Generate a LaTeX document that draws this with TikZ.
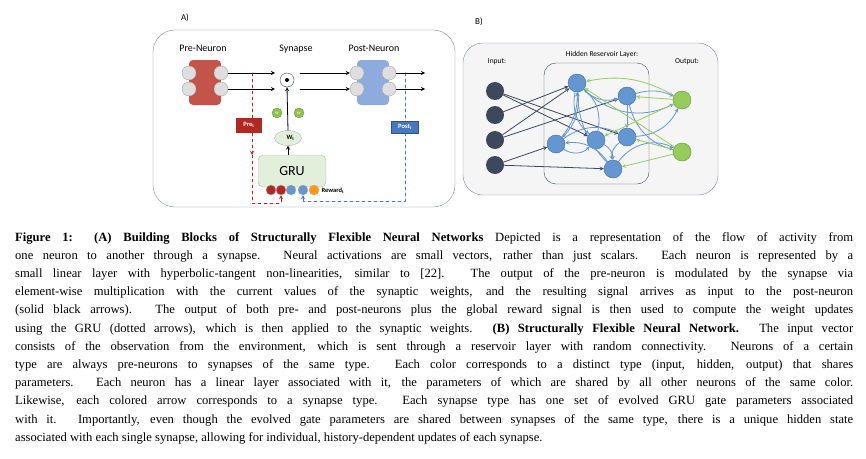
\documentclass[tikz,border=0pt]{standalone}
\usepackage{fontspec}
\setmainfont{Liberation Serif}
\newfontfamily\carl{Carlito}
\usetikzlibrary{arrows.meta,positioning,shapes.geometric}
\definecolor{preRed}{RGB}{196,84,74}
\definecolor{preDark}{RGB}{180,40,36}
\definecolor{postBlue}{RGB}{143,170,220}
\definecolor{postDark}{RGB}{70,120,190}
\definecolor{nGrey}{RGB}{222,222,222}
\definecolor{wGreen}{RGB}{140,196,80}
\definecolor{gruFill}{RGB}{226,239,218}
\definecolor{inDark}{RGB}{60,72,92}
\definecolor{hidBlue}{RGB}{100,150,210}
\definecolor{outGreen}{RGB}{150,205,90}
\definecolor{frameGrey}{RGB}{130,140,160}
\tikzset{
  port/.style={circle,draw=gray!70,fill=nGrey,minimum size=14pt,inner sep=0pt},
  lbl/.style={font=\carl\fontsize{10}{12}\selectfont},
  small/.style={font=\carl\bfseries\fontsize{6.5}{8}\selectfont},
  inN/.style={circle,fill=inDark,minimum size=18pt,inner sep=0pt},
  hidN/.style={circle,fill=hidBlue,draw=hidBlue!70!black,minimum size=18pt,inner sep=0pt},
  outN/.style={circle,fill=outGreen,draw=outGreen!70!black,minimum size=18pt,inner sep=0pt},
  inE/.style={->,draw=inDark,thick},
  hidE/.style={->,draw=hidBlue,thick},
  outE/.style={->,draw=outGreen,thick},
}
\begin{document}
\begin{tikzpicture}[x=1pt,y=-1pt,line cap=round,line join=round,>=stealth]
  \useasboundingbox (0,0) rectangle (866,458);
  \fill[white] (0,0) rectangle (866,458);

  %--- panel A -------------------------------------------------------------
  \node[lbl,font=\carl\fontsize{9}{10}\selectfont] (labA) at (185,18) {A)};
  \draw[frameGrey,rounded corners=22pt] (153,30) rectangle (455,207);
  \node[lbl] (tPre) at (203,48) {Pre-Neuron};
  \node[lbl] (tSyn) at (296,49) {Synapse};
  \node[lbl] (tPost) at (374,48) {Post-Neuron};

  % neurons
  \fill[preRed,rounded corners=4pt] (189,60) rectangle (221,105);
  \fill[postBlue,rounded corners=4pt] (357,60) rectangle (389,105);
  \foreach \x/\n in {189/pl,221/pr,357/ql,389/qr}{
    \node[port] (\n a) at (\x,73) {};
    \node[port] (\n b) at (\x,89) {};
  }
  \node[circle,draw=inDark,fill=white,minimum size=14pt,inner sep=0pt] (syn) at (287,80) {};
  \fill (syn) circle (2pt);
  \coordinate (sinA) at (275,73);  \coordinate (sinB) at (275,89);
  \coordinate (soA) at (300,73);   \coordinate (soB) at (300,89);
  \coordinate (oA) at (425,73);    \coordinate (oB) at (425,89);

  % red dashed (pre)
  \draw[preDark,thick,dashed] (pra.east) -- (252,73) (prb.east) -- (252,89);
  \draw[preDark,thick,dashed,->] (252,73) -- (252,155);
  \draw[preDark,thick,dashed] (252,155) -- (252,203) -- (281,203) -- (281,197);

  % blue dashed (post)
  \draw[postDark,thick,dashed] (qra.east) -- (405,73) (qrb.east) -- (405,89);
  \draw[postDark,thick,dashed] (405,73) -- (405,201) -- (303,201) -- (303,197);

  % solid arrows
  \draw[->,thick] (pra.east) -- (sinA);
  \draw[->,thick] (prb.east) -- (sinB);
  \draw[->,thick] (soA) -- (qla.west);
  \draw[->,thick] (soB) -- (qlb.west);
  \draw[->,thick] (qra.east) -- (oA);
  \draw[->,thick] (qrb.east) -- (oB);

  % GRU block
  \node[draw=gray!60,fill=gruFill,rounded corners=5pt,minimum width=68pt,minimum height=32pt,
        font=\carl\fontsize{14}{16}\selectfont] (gru) at (292,171) {GRU};
  \node[ellipse,draw=gray!60,fill=gruFill,minimum width=27pt,minimum height=15pt,inner sep=0pt,small] (dw) at (288,138) {$\mathbf{\Delta}$W\textsubscript{t}};
  \draw[->,thick] (gru.north -| dw) -- (dw.south);
  \draw[->,thick] (dw.north) -- (syn.south);
  \node[circle,fill=wGreen,draw=wGreen!80!black,minimum size=10pt,inner sep=0pt,font=\carl\fontsize{4}{4}\selectfont,text=white] (w1) at (277,113) {W};
  \node[circle,fill=wGreen,draw=wGreen!80!black,minimum size=10pt,inner sep=0pt,font=\carl\fontsize{4}{4}\selectfont,text=white] (w2) at (299,113) {W};
  \node[fill=preDark,text=white,small,minimum width=26pt,minimum height=15pt] (preT) at (249,125) {Pre\textsubscript{t}};
  \node[fill=postDark,draw=postDark!70!black,text=white,small,minimum width=27pt,minimum height=11pt] (postT) at (405,127) {Post\textsubscript{t}};
  \foreach \x/\c/\n in {271/preDark/r1,281/preDark/r2,291/hidBlue/r3,303/hidBlue/r4,314/orange!80!yellow/r5}
    \node[circle,fill=\c,draw=gray!60,minimum size=10pt,inner sep=0pt] (\n) at (\x,190) {};
  \draw[preDark,thick,->] (281,200) -- (r2.south);
  \draw[postDark,thick,->] (303,200) -- (r4.south);
  \node[small,anchor=west,text=black] (rew) at (318,191) {Reward\textsubscript{t}};

  %--- panel B -------------------------------------------------------------
  \node[lbl,font=\carl\fontsize{9}{10}\selectfont] (labB) at (479,22) {B)};
  \draw[frameGrey,fill=gray!8,rounded corners=20pt] (463,43) rectangle (718,195);
  \draw[inDark,rounded corners=12pt] (544,63) rectangle (649,184);
  \node[lbl,font=\carl\fontsize{7.5}{9}\selectfont] (tIn) at (497,62) {Input:};
  \node[lbl,font=\carl\fontsize{7.5}{9}\selectfont] (tHid) at (602,54) {Hidden Reservoir Layer:};
  \node[lbl,font=\carl\fontsize{7.5}{9}\selectfont] (tOut) at (687,62) {Output:};

  \foreach \y [count=\i] in {91,115,140,165}
    \node[inN] (i\i) at (495,\y) {};
  \node[hidN] (h1) at (577,83) {};
  \node[hidN] (h2) at (627,96) {};
  \node[hidN] (h3) at (556,144) {};
  \node[hidN] (h4) at (596,140) {};
  \node[hidN] (h5) at (627,137) {};
  \node[hidN] (h6) at (613,169) {};
  \node[outN] (o1) at (682,100) {};
  \node[outN] (o2) at (682,152) {};

  % input synapses
  \foreach \a/\b in {i1/h4,i1/h5,i2/h1,i3/h1,i3/h2,i4/h3,i4/h6}
    \draw[inE] (\a) -- (\b);

  % hidden synapses
  \foreach \a/\b/\t in {h1/h2/-30,h1/o1/-35,h1/h3/25,h3/h1/-20,h1/h4/-30,h3/h4/-40,h3/h5/30,
                        h4/h1/-30,h2/h5/0,h2/o2/-30,h5/h6/-30,h6/h1/20,h5/o1/-30,h6/o2/40,
                        h4/h6/30,h6/h3/-30,h2/o1/20}
    \draw[hidE] (\a) to[bend left=\t] (\b);

  % output synapses
  \foreach \a/\b/\t in {o1/h1/20,o1/h2/0,o1/h4/0,o2/h1/0,o2/h5/0,o2/h6/0}
    \draw[outE] (\a) to[bend right=\t] (\b);

  %--- caption -------------------------------------------------------------
  \node[anchor=north west,inner sep=0pt,text width=838pt,align=justify,
        font=\fontsize{12.6}{18.2}\selectfont] (cap) at (15,232) {%
    \textbf{Figure 1: (A) Building Blocks of Structurally Flexible Neural Networks} Depicted is a representation of the flow of activity from\linebreak
    one neuron to another through a synapse. Neural activations are small vectors, rather than just scalars. Each neuron is represented by a\linebreak
    small linear layer with hyperbolic-tangent non-linearities, similar to [22]. The output of the pre-neuron is modulated by the synapse via\linebreak
    element-wise multiplication with the current values of the synaptic weights, and the resulting signal arrives as input to the post-neuron\linebreak
    (solid black arrows). The output of both pre- and post-neurons plus the global reward signal is then used to compute the weight updates\linebreak
    using the GRU (dotted arrows), which is then applied to the synaptic weights. \textbf{(B) Structurally Flexible Neural Network.} The input vector\linebreak
    consists of the observation from the environment, which is sent through a reservoir layer with random connectivity. Neurons of a certain\linebreak
    type are always pre-neurons to synapses of the same type. Each color corresponds to a distinct type (input, hidden, output) that shares\linebreak
    parameters. Each neuron has a linear layer associated with it, the parameters of which are shared by all other neurons of the same color.\linebreak
    Likewise, each colored arrow corresponds to a synapse type. Each synapse type has one set of evolved GRU gate parameters associated\linebreak
    with it. Importantly, even though the evolved gate parameters are shared between synapses of the same type, there is a unique hidden state\linebreak
    associated with each single synapse, allowing for individual, history-dependent updates of each synapse.};
\end{tikzpicture}
\end{document}
